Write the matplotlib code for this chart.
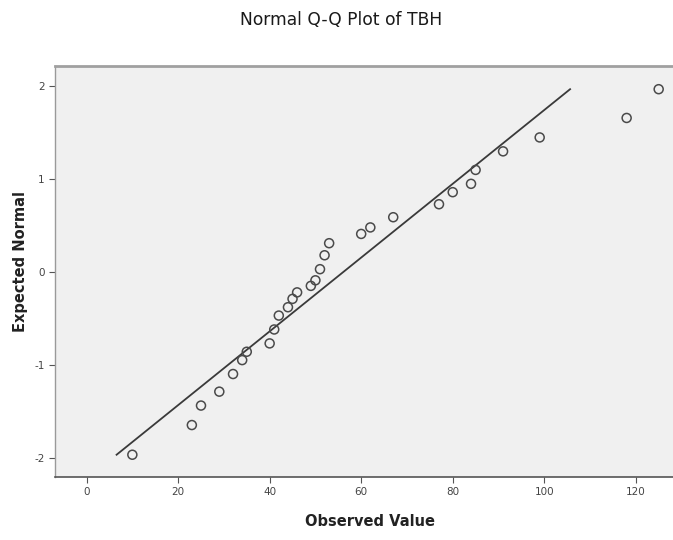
import matplotlib
matplotlib.use("Agg")
import matplotlib.pyplot as plt
import numpy as np

plt.rcParams['font.family'] = ['DejaVu Sans']
plt.rcParams['axes.unicode_minus'] = False

observed = [10, 23, 25, 29, 32, 34, 35, 40, 41, 42, 44, 45, 46, 49, 50, 51,
            52, 53, 60, 62, 67, 77, 80, 84, 85, 91, 99, 118, 125]
expected = [-1.97, -1.65, -1.44, -1.29, -1.10, -0.95, -0.86, -0.77, -0.62, -0.47,
            -0.38, -0.29, -0.22, -0.15, -0.09, 0.03, 0.18, 0.31, 0.41, 0.48,
            0.59, 0.73, 0.86, 0.95, 1.10, 1.30, 1.45, 1.66, 1.97]

# Reference line: observed = mean + sd * z
line_mean = 56.1
line_sd = 25.15
line_z = [-1.97, 1.97]

x_ticks = [0, 20, 40, 60, 80, 100, 120]
y_ticks = [-2, -1, 0, 1, 2]

fig = plt.figure(figsize=(6.73, 5.40), dpi=100)
ax = fig.add_axes([55/673, 1 - 477/540, (673 - 55)/673 + 0.01, (477 - 66)/540])
ax.set_facecolor('#f0f0f0')

lz = np.array(line_z)
ax.plot(line_mean + line_sd * lz, lz, color='#3a3a3a', lw=1.3, zorder=2)
ax.scatter(observed, expected, s=42, facecolors='none', edgecolors='#4a4a4a',
           linewidths=1.1, zorder=3)

ax.set_xlim(-6.9, 129.6)
ax.set_ylim(-2.21, 2.22)
ax.set_xticks(x_ticks)
ax.set_yticks(y_ticks)
ax.tick_params(axis='both', direction='out', length=4, width=0.8, color='#555555',
               labelsize=7.5, labelcolor='#444444')

for side in ['left', 'right']:
    ax.spines[side].set_color('#9a9a9a')
    ax.spines[side].set_linewidth(1.0)
ax.spines['top'].set_color('#a0a0a0')
ax.spines['top'].set_linewidth(2.0)
ax.spines['bottom'].set_color('#555555')
ax.spines['bottom'].set_linewidth(1.2)

ax.set_xlabel('Observed Value', fontsize=10.5, fontweight='bold', color='#222222')
ax.set_ylabel('Expected Normal', fontsize=10.5, fontweight='bold', color='#222222')
ax.xaxis.set_label_coords((367 - 55) / 618, (477 - 514) / 411)
ax.yaxis.set_label_coords((28 - 55) / 618, (477 - 262) / 411)
fig.text(341/673, 1 - 20/540, 'Normal Q-Q Plot of TBH', ha='center', va='center',
         fontsize=12.3, color='#1a1a1a')

fig.savefig('out.png', dpi=100, facecolor='white')
